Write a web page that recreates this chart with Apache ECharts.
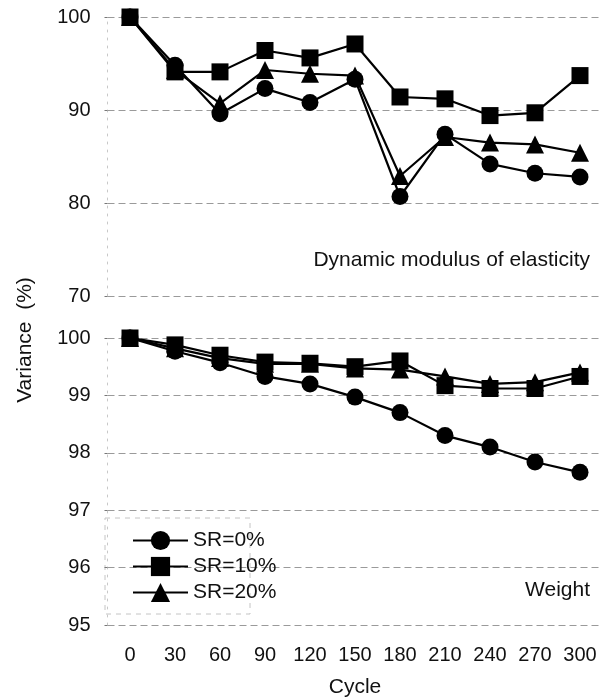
<!DOCTYPE html>
<html>
<head>
<meta charset="utf-8">
<script src="https://cdn.jsdelivr.net/npm/echarts@6/dist/echarts.min.js"></script>
<style>
  html, body { margin: 0; padding: 0; background: #fff; }
  #chart { width: 608px; height: 700px; }
</style>
</head>
<body>
<div id="chart"></div>
<script>
// Freeze–thaw cycles (x axis)
const cycles = ['0', '30', '60', '90', '120', '150', '180', '210', '240', '270', '300'];

// Relative dynamic modulus of elasticity (%)
const modulusSR0  = [100, 94.8, 89.6, 92.3, 90.8, 93.3, 80.7, 87.4, 84.2, 83.2, 82.8];
const modulusSR10 = [100, 94.1, 94.1, 96.4, 95.6, 97.1, 91.4, 91.2, 89.4, 89.7, 93.7];
const modulusSR20 = [100, 94.3, 90.7, 94.3, 93.9, 93.7, 82.9, 87.1, 86.5, 86.3, 85.4];

// Relative weight (%)
const weightSR0  = [100, 99.77, 99.57, 99.33, 99.2, 98.97, 98.7, 98.3, 98.1, 97.84, 97.66];
const weightSR10 = [100, 99.88, 99.7, 99.58, 99.56, 99.5, 99.6, 99.17, 99.12, 99.12, 99.33];
const weightSR20 = [100, 99.82, 99.65, 99.55, 99.55, 99.47, 99.45, 99.33, 99.2, 99.23, 99.4];

const seriesNames = ['SR=0%', 'SR=10%', 'SR=20%'];

const FONT = 'Liberation Sans, Arial, sans-serif';
const gridLine = { show: true, lineStyle: { color: '#9a9a9a', width: 1, type: [7, 4] } };

function yAxis(gridIndex, min, max, interval) {
  return {
    type: 'value', gridIndex, min, max, interval,
    axisLine: { show: true, lineStyle: { color: '#c8c8c8', width: 1, type: [2, 6] } },
    axisTick: { show: true, length: 3, lineStyle: { color: '#777' } },
    axisLabel: { fontSize: 20, color: '#111', fontFamily: FONT, margin: 17 },
    splitLine: gridLine
  };
}

function xAxis(gridIndex, showLabels) {
  return {
    type: 'category', gridIndex, data: cycles, boundaryGap: true,
    axisLine: { show: false }, axisTick: { show: false },
    axisLabel: { show: showLabels, fontSize: 20, color: '#111', fontFamily: FONT, margin: 20 },
    name: showLabels ? 'Cycle' : '', nameLocation: 'middle', nameGap: 52,
    nameTextStyle: { fontSize: 21, color: '#111', fontFamily: FONT }
  };
}

const markerOf = { 'SR=0%': ['circle', 17], 'SR=10%': ['rect', 17], 'SR=20%': ['triangle', 18] };

function line(name, data, axisIndex) {
  const [symbol, symbolSize] = markerOf[name];
  return {
    name, type: 'line', data, xAxisIndex: axisIndex, yAxisIndex: axisIndex,
    symbol, symbolSize,
    lineStyle: { color: '#000', width: 2.2 },
    itemStyle: { color: '#000' },
    emphasis: { disabled: true },
    animation: false
  };
}

const chart = echarts.init(document.getElementById('chart'), null, { renderer: 'canvas' });
chart.setOption({
  backgroundColor: '#fff',
  animation: false,
  grid: [
    { left: 107.5, width: 495, top: 17, height: 279 },
    { left: 107.5, width: 495, top: 338, height: 287 }
  ],
  xAxis: [xAxis(0, false), xAxis(1, true)],
  yAxis: [yAxis(0, 70, 100, 10), yAxis(1, 95, 100, 1)],
  legend: {
    data: seriesNames,
    orient: 'vertical', left: 127, top: 525,
    itemWidth: 55, itemHeight: 24, itemGap: 5,
    textStyle: { fontSize: 21, color: '#111', fontFamily: FONT },
    inactiveColor: '#000'
  },
  graphic: [
    {
      type: 'rect', silent: true, z: 0,
      shape: { x: 105, y: 518, width: 145, height: 96 },
      style: { fill: 'none', stroke: '#c4c4c4', lineWidth: 1, lineDash: [5, 5] }
    },
    {
      type: 'text', x: 25, y: 340, rotation: Math.PI / 2,
      style: { text: 'Variance  (%)', fontSize: 21, fill: '#111', fontFamily: FONT,
               textAlign: 'center', textVerticalAlign: 'middle' }
    },
    {
      type: 'text', x: 590, y: 260,
      style: { text: 'Dynamic modulus of elasticity', fontSize: 21, fill: '#111', fontFamily: FONT,
               textAlign: 'right', textVerticalAlign: 'middle' }
    },
    {
      type: 'text', x: 590, y: 590,
      style: { text: 'Weight', fontSize: 21, fill: '#111', fontFamily: FONT,
               textAlign: 'right', textVerticalAlign: 'middle' }
    }
  ],
  series: [
    line('SR=20%', modulusSR20, 0),
    line('SR=0%', modulusSR0, 0),
    line('SR=10%', modulusSR10, 0),
    line('SR=20%', weightSR20, 1),
    line('SR=0%', weightSR0, 1),
    line('SR=10%', weightSR10, 1)
  ]
});
</script>
</body>
</html>
